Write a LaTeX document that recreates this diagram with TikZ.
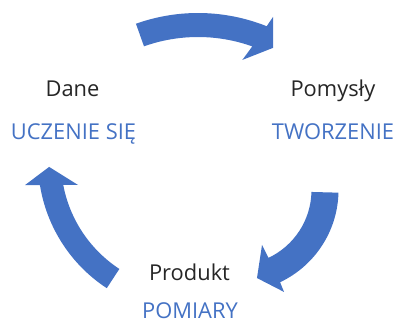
\documentclass[tikz,border=0pt]{standalone}
\usepackage{fontspec}
\setmainfont{Open Sans}
\definecolor{cycleblue}{HTML}{4472C4}
\definecolor{textgray}{HTML}{262626}

\begin{document}
\begin{tikzpicture}[x=0.75pt,y=0.75pt,
        bigarrow/.style={fill=cycleblue,draw=none},
        nametext/.style={anchor=base,inner sep=0pt,text=textgray,font=\fontsize{16.4}{19}\selectfont},
        stagetext/.style={anchor=base,inner sep=0pt,text=cycleblue,font=\fontsize{16.4}{19}\selectfont}]
        \useasboundingbox(0,0)rectangle(395,324);

        % top arrow: Dane -> Pomysly
        \begin{scope}[shift={(198,126)}]
            \fill[bigarrow](109.6:185)arc[start angle=109.6,end angle=68.2,radius=185]
                --(67.5:196)--(63.4:168)--(72.2:145)
                --(70.3:161)arc[start angle=70.3,end angle=109.6,radius=161]--cycle;
        \end{scope}

        % right arrow: Pomysly -> Produkt
        \begin{scope}[shift={(236.5,134)}]
            \fill[bigarrow](-1.5:102)arc[start angle=-1.5,end angle=-64.7,radius=102]
                --(-65:112.5)--(-76.9:90.4)--(-65.1:60.6)
                --(-64.8:75)arc[start angle=-64.8,end angle=-1.5,radius=75]--cycle;
        \end{scope}

        % left arrow: Produkt -> Dane
        \begin{scope}[shift={(190,163)}]
            \fill[bigarrow](236.8:152)arc[start angle=236.8,end angle=189.1,radius=152]
                --(188.3:166.7)--(182.4:141)--(192.1:114.5)
                --(190.7:129)arc[start angle=190.7,end angle=236.8,radius=129]--cycle;
        \end{scope}

        \node[nametext](dane)at(72.5,227){Dane};
        \node[stagetext](uczenie)at(73.5,184){UCZENIE SIĘ};
        \node[nametext](pomysly)at(333,227){Pomysły};
        \node[stagetext](tworzenie)at(333,184){TWORZENIE};
        \node[nametext](produkt)at(189.5,43){Produkt};
        \node[stagetext](pomiary)at(190,6){POMIARY};
    \end{tikzpicture}
\end{document}
